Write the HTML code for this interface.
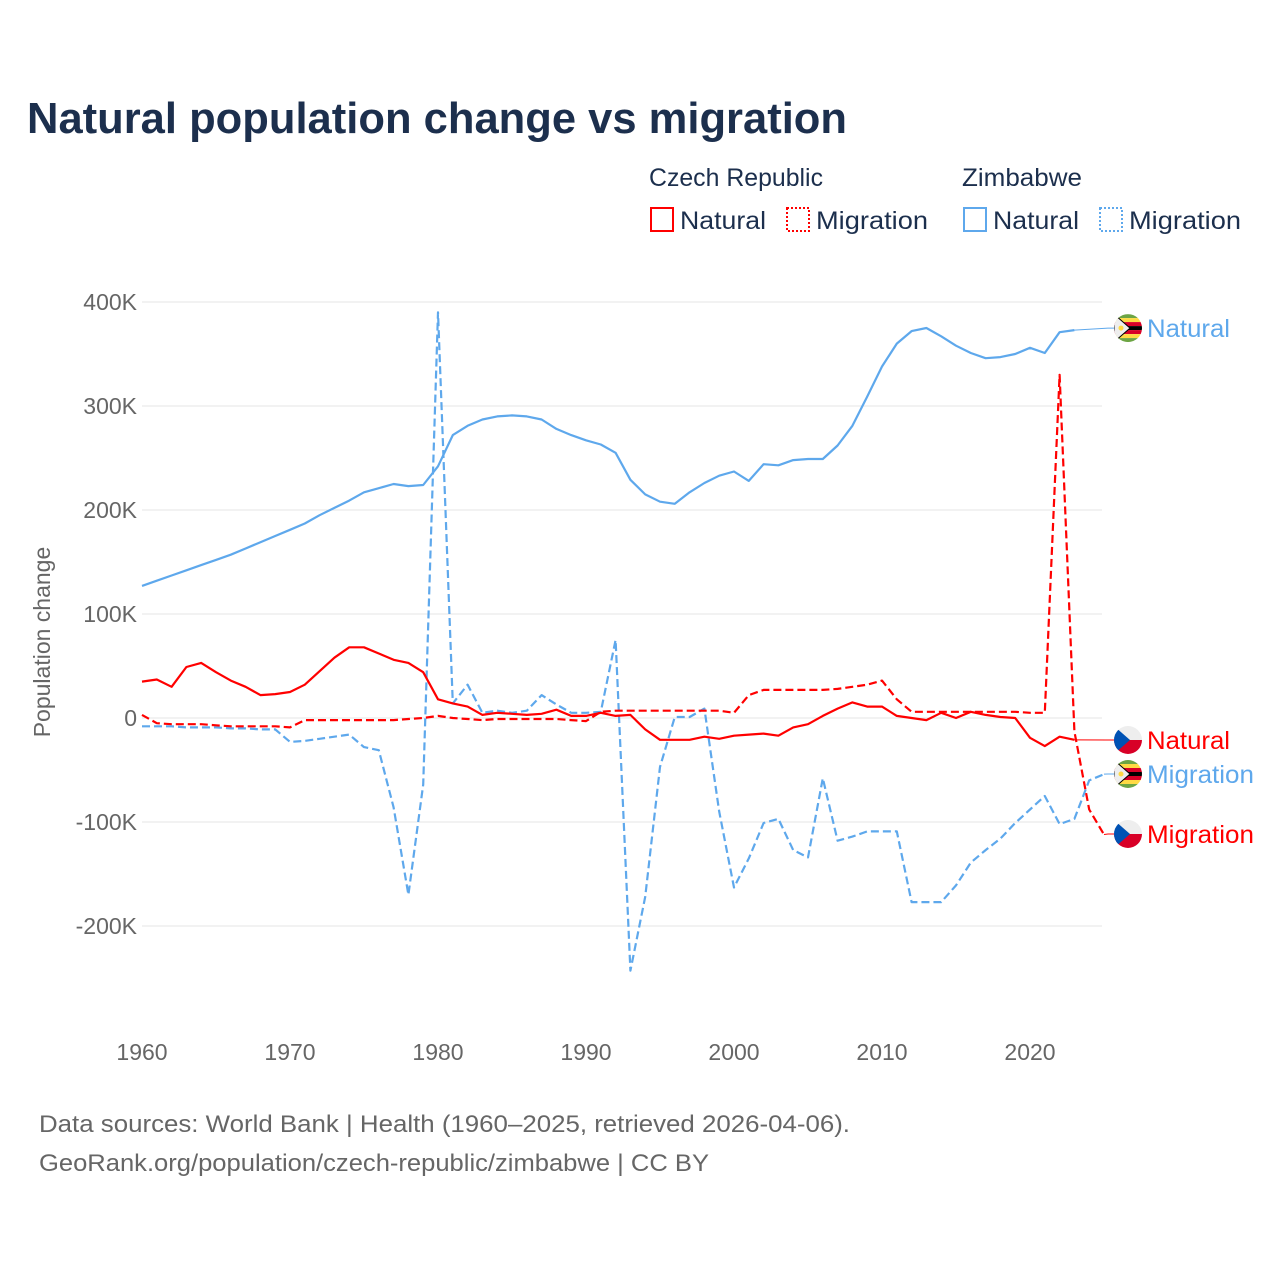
<!DOCTYPE html>
<html><head><meta charset="utf-8"><style>
html,body{margin:0;padding:0;background:#fff;}
body{width:1280px;height:1280px;overflow:hidden;font-family:"Liberation Sans","DejaVu Sans",sans-serif;}
svg text{font-family:"Liberation Sans","DejaVu Sans",sans-serif;}
</style></head><body>
<svg id="chart" width="1280" height="1280" viewBox="0 0 1280 1280" xmlns="http://www.w3.org/2000/svg">
<defs>
<clipPath id="c1"><circle cx="0" cy="0" r="14"/></clipPath>
</defs>
<text x="27" y="133" font-size="44" font-weight="bold" fill="#1c2f4d" textLength="820" lengthAdjust="spacingAndGlyphs">Natural population change vs migration</text>
<g>
<text x="649" y="186" font-size="25" fill="#1c2f4d" textLength="174" lengthAdjust="spacingAndGlyphs">Czech Republic</text>
<text x="962" y="186" font-size="25" fill="#1c2f4d" textLength="120" lengthAdjust="spacingAndGlyphs">Zimbabwe</text>
<g><rect x="651" y="208" width="22" height="23" fill="none" stroke="#ff0000" stroke-width="2"/><text x="680" y="229" font-size="25" fill="#1c2f4d" textLength="86" lengthAdjust="spacingAndGlyphs">Natural</text></g>
<g><rect x="787" y="208" width="22" height="23" fill="none" stroke="#ff0000" stroke-width="2" stroke-dasharray="2,2"/><text x="816" y="229" font-size="25" fill="#1c2f4d" textLength="112" lengthAdjust="spacingAndGlyphs">Migration</text></g>
<g><rect x="964" y="208" width="22" height="23" fill="none" stroke="#5ea8ec" stroke-width="2"/><text x="993" y="229" font-size="25" fill="#1c2f4d" textLength="86" lengthAdjust="spacingAndGlyphs">Natural</text></g>
<g><rect x="1100" y="208" width="22" height="23" fill="none" stroke="#5ea8ec" stroke-width="2" stroke-dasharray="2,2"/><text x="1129" y="229" font-size="25" fill="#1c2f4d" textLength="112" lengthAdjust="spacingAndGlyphs">Migration</text></g>
</g>
<g id="grid"></g>
<g id="series"></g>
<g id="labels"></g>
<text transform="translate(50,642) rotate(-90)" text-anchor="middle" font-size="23" fill="#666">Population change</text>
<text x="39" y="1132" font-size="24" fill="#666" textLength="811" lengthAdjust="spacingAndGlyphs">Data sources: World Bank | Health (1960–2025, retrieved 2026-04-06).</text>
<text x="39" y="1171" font-size="24" fill="#666" textLength="670" lengthAdjust="spacingAndGlyphs">GeoRank.org/population/czech-republic/zimbabwe | CC BY</text>
</svg>
<script>
const years0 = 1960;
const czNatural = [35,37,30,49,53,44,36,30,22,23,25,32,45,58,68,68,62,56,53,44,18,14,11,3,5,4,3,4,8,2,2,5,2,3,-11,-21,-21,-21,-18,-20,-17,-16,-15,-17,-9,-6,2,9,15,11,11,2,0,-2,5,0,6,3,1,0,-19,-27,-18,-21];
const czMigration = [3,-5,-6,-6,-6,-7,-8,-8,-8,-8,-9,-2,-2,-2,-2,-2,-2,-2,-1,0,2,0,-1,-2,-1,-1,-1,-1,-1,-2,-3,6,7,7,7,7,7,7,7,7,5,22,27,27,27,27,27,28,30,32,36,18,6,6,6,6,6,6,6,6,5,5,330,-13,-88,-112];
const zwNatural = [127,132,137,142,147,152,157,163,169,175,181,187,195,202,209,217,221,225,223,224,242,272,281,287,290,291,290,287,278,272,267,263,255,229,215,208,206,217,226,233,237,228,244,243,248,249,249,262,281,309,338,360,372,375,367,358,351,346,347,350,356,351,371,373];
const zwMigration = [-8,-8,-8,-9,-9,-9,-10,-10,-11,-11,-23,-22,-20,-18,-16,-28,-31,-86,-170,-64,390,14,32,5,7,5,7,22,13,5,5,6,75,-243,-172,-47,1,1,9,-90,-163,-135,-101,-97,-127,-134,-58,-118,-114,-109,-109,-109,-177,-177,-177,-161,-139,-127,-116,-101,-88,-75,-102,-97,-60,-54];
const yTicks = [400,300,200,100,0,-100,-200];
const yTickLabels = ["400K","300K","200K","100K","0","-100K","-200K"];
const xTicks = [1960,1970,1980,1990,2000,2010,2020];

const NS = "http://www.w3.org/2000/svg";
function X(year){ return 142 + (year-1960)*14.8; }
function Y(v){ return 718 - v*1.04; }
function mk(tag, attrs, parent){ const e=document.createElementNS(NS,tag); for(const k in attrs) e.setAttribute(k,attrs[k]); parent.appendChild(e); return e; }

const grid = document.getElementById('grid');
yTicks.forEach((t,i)=>{
  const l = mk('line',{x1:142,x2:1102,y1:Y(t),y2:Y(t),stroke:'#e6e6e6','stroke-width':1},grid);
  
  
  const tx = mk('text',{x:137,y:Y(t)+8,'text-anchor':'end','font-size':23,fill:'#666'},grid);
  tx.textContent = yTickLabels[i];
  
  
});
xTicks.forEach(t=>{
  const tx = mk('text',{x:X(t),y:1060,'text-anchor':'middle','font-size':23,fill:'#666'},grid);
  tx.textContent = t;
  
  
});

const series = document.getElementById('series');
function draw(arr,color,dash,name){
  const d = arr.map((v,i)=>(i?'L':'M')+X(years0+i).toFixed(1)+','+Y(v).toFixed(1)).join(' ');
  const p = mk('path',{d:d,fill:'none',stroke:color,'stroke-width':2.2,'stroke-linejoin':'round'},series);
  if(dash) p.setAttribute('stroke-dasharray','8,4');
  
  
}
draw(zwNatural,'#5ea8ec',false,'line-zimbabwe-natural');
draw(zwMigration,'#5ea8ec',true,'line-zimbabwe-migration');
draw(czNatural,'#ff0000',false,'line-czech-natural');
draw(czMigration,'#ff0000',true,'line-czech-migration');

const labels = document.getElementById('labels');
function flag(type,cx,cy,g){
  const fg = mk('g',{transform:`translate(${cx},${cy})`},g);
  const inner = mk('g',{'clip-path':'url(#c1)'},fg);
  if(type==='cz'){
    mk('rect',{x:-14,y:-14,width:28,height:14,fill:'#eeeeee'},inner);
    mk('rect',{x:-14,y:0,width:28,height:14,fill:'#d80027'},inner);
    mk('polygon',{points:'-14,-14 2,0 -14,14',fill:'#0052b4'},inner);
  } else {
    const cols=['#6da544','#ffda44','#d80027','#000','#d80027','#ffda44','#6da544'];
    cols.forEach((c,i)=>mk('rect',{x:-14,y:-14+i*4,width:28,height:4,fill:c},inner));
    mk('polygon',{points:'-14,-14 2,0 -14,14',fill:'#eeeeee',stroke:'#000','stroke-width':1},inner);
    mk('circle',{cx:-7,cy:0,r:2.5,fill:'#ffda44'},inner);
  }
}
function endLabel(arr,color,type,ly,text,name,tl){
  const n=arr.length-1;
  const g = mk('g',{},labels);
  
  
  mk('polyline',{points:`${X(years0+n)},${Y(arr[n])} 1108,${ly} 1114,${ly}`,fill:'none',stroke:color,'stroke-width':1},g);
  flag(type,1128,ly,g);
  const t = mk('text',{x:1147,y:ly+9,'font-size':25,fill:color,textLength:tl,lengthAdjust:'spacingAndGlyphs'},g);
  t.textContent=text;
}
endLabel(zwNatural,'#5ea8ec','zw',Y(zwNatural[zwNatural.length-1])-2,'Natural','end-label-zimbabwe-natural',83);
endLabel(czNatural,'#ff0000','cz',740,'Natural','end-label-czech-natural',83);
endLabel(zwMigration,'#5ea8ec','zw',774,'Migration','end-label-zimbabwe-migration',107);
endLabel(czMigration,'#ff0000','cz',834,'Migration','end-label-czech-migration',107);
</script>
</body></html>
